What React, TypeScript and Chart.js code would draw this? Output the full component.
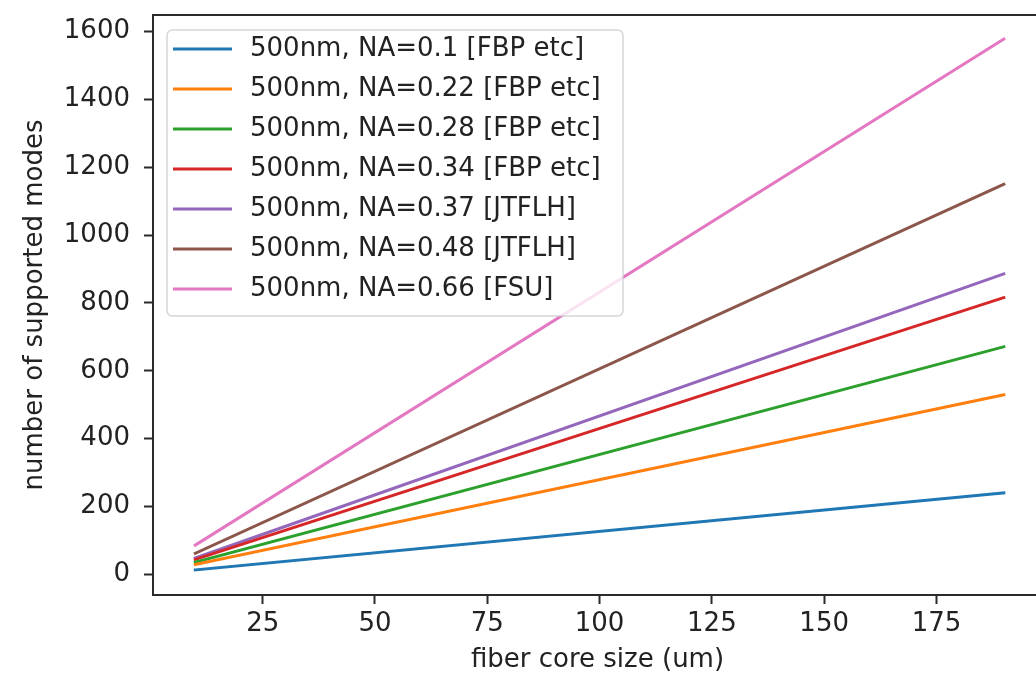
import React, { useEffect, useRef } from 'react';
import { Chart, registerables } from 'chart.js';

Chart.register(...registerables);

// ---- data ----
const coreSizes = [10, 190]; // fiber core size (um)
const seriesLabels = [
  '500nm, NA=0.1 [FBP etc]',
  '500nm, NA=0.22 [FBP etc]',
  '500nm, NA=0.28 [FBP etc]',
  '500nm, NA=0.34 [FBP etc]',
  '500nm, NA=0.37 [JTFLH]',
  '500nm, NA=0.48 [JTFLH]',
  '500nm, NA=0.66 [FSU]',
];
const modesNA010 = [13, 240];
const modesNA022 = [29, 529];
const modesNA028 = [36, 671];
const modesNA034 = [44, 816];
const modesNA037 = [48, 886];
const modesNA048 = [62, 1150];
const modesNA066 = [86, 1578];
const seriesValues = [modesNA010, modesNA022, modesNA028, modesNA034, modesNA037, modesNA048, modesNA066];
const seriesColors = ['#1f77b4', '#ff7f0e', '#2ca02c', '#d62728', '#9467bd', '#8c564b', '#e377c2'];

const xTickValues = [25, 50, 75, 100, 125, 150, 175];
const yTickValues = [0, 200, 400, 600, 800, 1000, 1200, 1400, 1600];

const FONT = '"DejaVu Sans", sans-serif';

export default function App() {
  const canvasRef = useRef<HTMLCanvasElement>(null);

  useEffect(() => {
    document.body.style.margin = '0';
    document.body.style.overflow = 'hidden';
    const canvas = canvasRef.current;
    if (!canvas) return;

    const framePlugin = {
      id: 'frameAndLegend',
      afterDatasetsDraw(chart: any) {
        const { ctx, chartArea } = chart;
        ctx.save();
        // spines
        ctx.strokeStyle = '#2b2b2b';
        ctx.lineWidth = 2;
        ctx.strokeRect(chartArea.left, chartArea.top, chartArea.right - chartArea.left, chartArea.bottom - chartArea.top);

        // legend box
        const bx = chartArea.left + 14;
        const by = chartArea.top + 15;
        const bw = 456;
        const bh = 286;
        const r = 6;
        ctx.beginPath();
        ctx.moveTo(bx + r, by);
        ctx.lineTo(bx + bw - r, by);
        ctx.quadraticCurveTo(bx + bw, by, bx + bw, by + r);
        ctx.lineTo(bx + bw, by + bh - r);
        ctx.quadraticCurveTo(bx + bw, by + bh, bx + bw - r, by + bh);
        ctx.lineTo(bx + r, by + bh);
        ctx.quadraticCurveTo(bx, by + bh, bx, by + bh - r);
        ctx.lineTo(bx, by + r);
        ctx.quadraticCurveTo(bx, by, bx + r, by);
        ctx.closePath();
        ctx.fillStyle = 'rgba(255,255,255,0.8)';
        ctx.fill();
        ctx.strokeStyle = 'rgba(204,204,204,0.8)';
        ctx.lineWidth = 1.5;
        ctx.stroke();

        ctx.font = `26px ${FONT}`;
        ctx.textBaseline = 'middle';
        ctx.textAlign = 'left';
        chart.data.datasets.forEach((ds: any, i: number) => {
          const y = by + 19 + i * 40;
          ctx.strokeStyle = ds.borderColor;
          ctx.lineWidth = 3;
          ctx.lineCap = 'butt';
          ctx.beginPath();
          ctx.moveTo(bx + 6, y);
          ctx.lineTo(bx + 65, y);
          ctx.stroke();
          ctx.fillStyle = '#222';
          ctx.fillText(ds.label, bx + 83, y);
        });
        ctx.restore();
      },
    };

    const chart = new Chart(canvas, {
      type: 'line',
      data: {
        datasets: seriesValues.map((vals, i) => ({
          label: seriesLabels[i],
          data: coreSizes.map((x, j) => ({ x, y: vals[j] })),
          borderColor: seriesColors[i],
          backgroundColor: seriesColors[i],
          borderWidth: 3,
          borderCapStyle: 'square' as const,
          pointRadius: 0,
          fill: false,
          tension: 0,
        })),
      },
      options: {
        responsive: false,
        animation: false,
        devicePixelRatio: 1,
        layout: { padding: { top: 15, right: 8, left: 0, bottom: 0 } },
        plugins: {
          legend: { display: false },
          tooltip: { enabled: false },
        },
        scales: {
          x: {
            type: 'linear',
            min: 0.58,
            max: 198.5,
            afterFit: (s: any) => {
              s.height = 78;
              s.paddingLeft = 0;
              s.paddingRight = 0;
              s.paddingTop = 0;
              s.paddingBottom = 0;
            },
            afterBuildTicks: (s: any) => { s.ticks = xTickValues.map((v) => ({ value: v })); },
            border: { display: false },
            grid: {
              display: true,
              drawOnChartArea: false,
              drawTicks: true,
              tickLength: 9,
              tickWidth: 2,
              tickColor: '#2b2b2b',
            },
            ticks: {
              color: '#222',
              font: { family: FONT, size: 26 },
              padding: 5,
              maxRotation: 0,
              autoSkip: false,
              callback: (v: any) => String(v),
            },
            title: {
              display: true,
              text: 'fiber core size (um)',
              color: '#222',
              font: { family: FONT, size: 26, lineHeight: 1 },
              padding: { top: 0, bottom: 0 },
            },
          },
          y: {
            type: 'linear',
            min: -61,
            max: 1649,
            afterFit: (s: any) => {
              s.width = 153;
              s.paddingLeft = 0;
              s.paddingRight = 0;
              s.paddingTop = 0;
              s.paddingBottom = 0;
            },
            afterBuildTicks: (s: any) => { s.ticks = yTickValues.map((v) => ({ value: v })); },
            border: { display: false },
            grid: {
              display: true,
              drawOnChartArea: false,
              drawTicks: true,
              tickLength: 9,
              tickWidth: 2,
              tickColor: '#2b2b2b',
            },
            ticks: {
              color: '#222',
              font: { family: FONT, size: 26 },
              padding: 14,
              autoSkip: false,
              callback: (v: any) => String(v),
            },
            title: {
              display: true,
              text: 'number of supported modes',
              color: '#222',
              font: { family: FONT, size: 26, lineHeight: 1.2 },
              padding: { top: 20, bottom: 0 },
            },
          },
        },
      },
      plugins: [framePlugin],
    });

    return () => chart.destroy();
  }, []);

  return (
    <div style={{ position: 'relative', width: 1050, height: 673, background: '#fff' }}>
      <canvas ref={canvasRef} width={1050} height={673} style={{ display: 'block' }} />
    </div>
  );
}
